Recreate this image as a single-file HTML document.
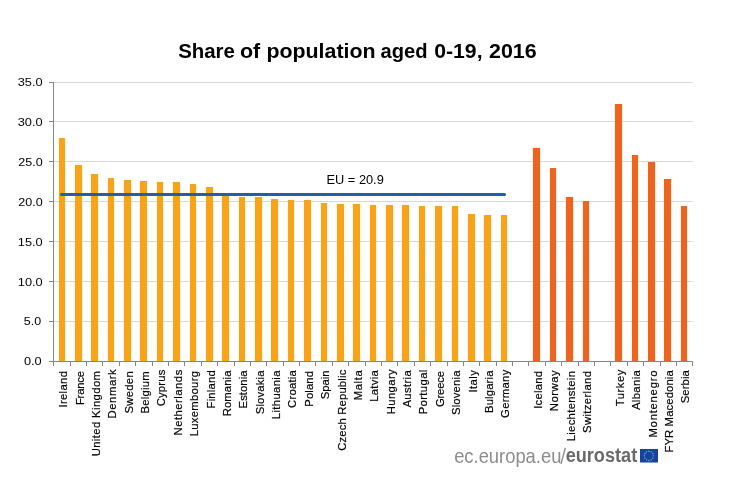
<!DOCTYPE html>
<html><head><meta charset="utf-8"><title>Share of population aged 0-19, 2016</title>
<style>html,body{margin:0;padding:0;background:#fff}body{width:742px;height:491px;overflow:hidden}svg{display:block;will-change:transform}text{font-family:"Liberation Sans",sans-serif}#txt{filter:opacity(.999)}.l{stroke:#000;stroke-width:.18px}</style>
</head><body>
<svg width="742" height="491" viewBox="0 0 742 491">
<rect width="742" height="491" fill="#fff"/>
<g shape-rendering="crispEdges">
<rect x="58" y="138" width="8" height="223" fill="#fffadf"/>
<rect x="74" y="165" width="9" height="196" fill="#fffadf"/>
<rect x="90" y="174" width="9" height="187" fill="#fffadf"/>
<rect x="107" y="178" width="8" height="183" fill="#fffadf"/>
<rect x="123" y="180" width="9" height="181" fill="#fffadf"/>
<rect x="139" y="181" width="9" height="180" fill="#fffadf"/>
<rect x="156" y="182" width="8" height="179" fill="#fffadf"/>
<rect x="172" y="182" width="9" height="179" fill="#fffadf"/>
<rect x="189" y="184" width="8" height="177" fill="#fffadf"/>
<rect x="205" y="187" width="9" height="174" fill="#fffadf"/>
<rect x="221" y="195" width="9" height="166" fill="#fffadf"/>
<rect x="238" y="197" width="8" height="164" fill="#fffadf"/>
<rect x="254" y="197" width="9" height="164" fill="#fffadf"/>
<rect x="270" y="199" width="9" height="162" fill="#fffadf"/>
<rect x="287" y="200" width="8" height="161" fill="#fffadf"/>
<rect x="303" y="200" width="9" height="161" fill="#fffadf"/>
<rect x="320" y="203" width="8" height="158" fill="#fffadf"/>
<rect x="336" y="204" width="9" height="157" fill="#fffadf"/>
<rect x="352" y="204" width="9" height="157" fill="#fffadf"/>
<rect x="369" y="205" width="8" height="156" fill="#fffadf"/>
<rect x="385" y="205" width="9" height="156" fill="#fffadf"/>
<rect x="401" y="205" width="9" height="156" fill="#fffadf"/>
<rect x="418" y="206" width="8" height="155" fill="#fffadf"/>
<rect x="434" y="206" width="9" height="155" fill="#fffadf"/>
<rect x="451" y="206" width="8" height="155" fill="#fffadf"/>
<rect x="467" y="214" width="9" height="147" fill="#fffadf"/>
<rect x="483" y="215" width="9" height="146" fill="#fffadf"/>
<rect x="500" y="215" width="8" height="146" fill="#fffadf"/>
<rect x="532" y="148" width="9" height="213" fill="#fff1e6"/>
<rect x="549" y="168" width="8" height="193" fill="#fff1e6"/>
<rect x="565" y="197" width="9" height="164" fill="#fff1e6"/>
<rect x="582" y="201" width="8" height="160" fill="#fff1e6"/>
<rect x="614" y="104" width="9" height="257" fill="#fff1e6"/>
<rect x="631" y="155" width="8" height="206" fill="#fff1e6"/>
<rect x="647" y="162" width="9" height="199" fill="#fff1e6"/>
<rect x="663" y="179" width="9" height="182" fill="#fff1e6"/>
<rect x="680" y="206" width="8" height="155" fill="#fff1e6"/>
</g>
<g shape-rendering="crispEdges">
<rect x="54" y="82" width="639" height="1" fill="#d9d9d9"/>
<rect x="54" y="121" width="639" height="1" fill="#d9d9d9"/>
<rect x="54" y="161" width="639" height="1" fill="#d9d9d9"/>
<rect x="54" y="201" width="639" height="1" fill="#d9d9d9"/>
<rect x="54" y="241" width="639" height="1" fill="#d9d9d9"/>
<rect x="54" y="281" width="639" height="1" fill="#d9d9d9"/>
<rect x="54" y="321" width="639" height="1" fill="#d9d9d9"/>
</g>
<g>
<rect x="59" y="138" width="6" height="223" fill="#f9a31a"/>
<rect x="75" y="165" width="7" height="196" fill="#f9a31a"/>
<rect x="91" y="174" width="7" height="187" fill="#f9a31a"/>
<rect x="108" y="178" width="6" height="183" fill="#f9a31a"/>
<rect x="124" y="180" width="7" height="181" fill="#f9a31a"/>
<rect x="140" y="181" width="7" height="180" fill="#f9a31a"/>
<rect x="157" y="182" width="6" height="179" fill="#f9a31a"/>
<rect x="173" y="182" width="7" height="179" fill="#f9a31a"/>
<rect x="190" y="184" width="6" height="177" fill="#f9a31a"/>
<rect x="206" y="187" width="7" height="174" fill="#f9a31a"/>
<rect x="222" y="195" width="7" height="166" fill="#f9a31a"/>
<rect x="239" y="197" width="6" height="164" fill="#f9a31a"/>
<rect x="255" y="197" width="7" height="164" fill="#f9a31a"/>
<rect x="271" y="199" width="7" height="162" fill="#f9a31a"/>
<rect x="288" y="200" width="6" height="161" fill="#f9a31a"/>
<rect x="304" y="200" width="7" height="161" fill="#f9a31a"/>
<rect x="321" y="203" width="6" height="158" fill="#f9a31a"/>
<rect x="337" y="204" width="7" height="157" fill="#f9a31a"/>
<rect x="353" y="204" width="7" height="157" fill="#f9a31a"/>
<rect x="370" y="205" width="6" height="156" fill="#f9a31a"/>
<rect x="386" y="205" width="7" height="156" fill="#f9a31a"/>
<rect x="402" y="205" width="7" height="156" fill="#f9a31a"/>
<rect x="419" y="206" width="6" height="155" fill="#f9a31a"/>
<rect x="435" y="206" width="7" height="155" fill="#f9a31a"/>
<rect x="452" y="206" width="6" height="155" fill="#f9a31a"/>
<rect x="468" y="214" width="7" height="147" fill="#f9a31a"/>
<rect x="484" y="215" width="7" height="146" fill="#f9a31a"/>
<rect x="501" y="215" width="6" height="146" fill="#f9a31a"/>
<rect x="533" y="148" width="7" height="213" fill="#ee641f"/>
<rect x="550" y="168" width="6" height="193" fill="#ee641f"/>
<rect x="566" y="197" width="7" height="164" fill="#ee641f"/>
<rect x="583" y="201" width="6" height="160" fill="#ee641f"/>
<rect x="615" y="104" width="7" height="257" fill="#ee641f"/>
<rect x="632" y="155" width="6" height="206" fill="#ee641f"/>
<rect x="648" y="162" width="7" height="199" fill="#ee641f"/>
<rect x="664" y="179" width="7" height="182" fill="#ee641f"/>
<rect x="681" y="206" width="6" height="155" fill="#ee641f"/>
</g>
<g shape-rendering="crispEdges" fill="#868686">
<rect x="53" y="82" width="1" height="284"/>
<rect x="49" y="361" width="644" height="1"/>
<rect x="49" y="82" width="5" height="1"/>
<rect x="49" y="121" width="5" height="1"/>
<rect x="49" y="161" width="5" height="1"/>
<rect x="49" y="201" width="5" height="1"/>
<rect x="49" y="241" width="5" height="1"/>
<rect x="49" y="281" width="5" height="1"/>
<rect x="49" y="321" width="5" height="1"/>
<rect x="70" y="361" width="1" height="5"/>
<rect x="86" y="361" width="1" height="5"/>
<rect x="102" y="361" width="1" height="5"/>
<rect x="119" y="361" width="1" height="5"/>
<rect x="135" y="361" width="1" height="5"/>
<rect x="152" y="361" width="1" height="5"/>
<rect x="168" y="361" width="1" height="5"/>
<rect x="184" y="361" width="1" height="5"/>
<rect x="201" y="361" width="1" height="5"/>
<rect x="217" y="361" width="1" height="5"/>
<rect x="234" y="361" width="1" height="5"/>
<rect x="250" y="361" width="1" height="5"/>
<rect x="266" y="361" width="1" height="5"/>
<rect x="283" y="361" width="1" height="5"/>
<rect x="299" y="361" width="1" height="5"/>
<rect x="315" y="361" width="1" height="5"/>
<rect x="332" y="361" width="1" height="5"/>
<rect x="348" y="361" width="1" height="5"/>
<rect x="365" y="361" width="1" height="5"/>
<rect x="381" y="361" width="1" height="5"/>
<rect x="397" y="361" width="1" height="5"/>
<rect x="414" y="361" width="1" height="5"/>
<rect x="430" y="361" width="1" height="5"/>
<rect x="447" y="361" width="1" height="5"/>
<rect x="463" y="361" width="1" height="5"/>
<rect x="479" y="361" width="1" height="5"/>
<rect x="496" y="361" width="1" height="5"/>
<rect x="512" y="361" width="1" height="5"/>
<rect x="528" y="361" width="1" height="5"/>
<rect x="545" y="361" width="1" height="5"/>
<rect x="561" y="361" width="1" height="5"/>
<rect x="578" y="361" width="1" height="5"/>
<rect x="594" y="361" width="1" height="5"/>
<rect x="610" y="361" width="1" height="5"/>
<rect x="627" y="361" width="1" height="5"/>
<rect x="643" y="361" width="1" height="5"/>
<rect x="660" y="361" width="1" height="5"/>
<rect x="676" y="361" width="1" height="5"/>
<rect x="692" y="361" width="1" height="5"/>
</g>
<line x1="61.5" y1="194.5" x2="504.5" y2="194.5" stroke="#225ea9" stroke-width="3" stroke-linecap="round"/>
<line x1="561.0" y1="464.0" x2="565.3" y2="447.8" stroke="#8c8c8c" stroke-width="1.35"/>
<rect x="640" y="449" width="18" height="13.5" fill="#1443a2"/>
<circle cx="648.90" cy="451.25" r="0.7" fill="#8fc09c"/>
<circle cx="651.20" cy="451.87" r="0.7" fill="#8fc09c"/>
<circle cx="652.88" cy="453.55" r="0.7" fill="#8fc09c"/>
<circle cx="653.50" cy="455.85" r="0.7" fill="#8fc09c"/>
<circle cx="652.88" cy="458.15" r="0.7" fill="#8fc09c"/>
<circle cx="651.20" cy="459.83" r="0.7" fill="#8fc09c"/>
<circle cx="648.90" cy="460.45" r="0.7" fill="#8fc09c"/>
<circle cx="646.60" cy="459.83" r="0.7" fill="#8fc09c"/>
<circle cx="644.92" cy="458.15" r="0.7" fill="#8fc09c"/>
<circle cx="644.30" cy="455.85" r="0.7" fill="#8fc09c"/>
<circle cx="644.92" cy="453.55" r="0.7" fill="#8fc09c"/>
<circle cx="646.60" cy="451.87" r="0.7" fill="#8fc09c"/>
<g id="txt">
<text x="178.18" y="58.3" font-size="19.3" font-weight="bold" fill="#000" textLength="56.72" lengthAdjust="spacingAndGlyphs">Share</text>
<text x="239.93" y="58.3" font-size="19.3" font-weight="bold" fill="#000" textLength="20.30" lengthAdjust="spacingAndGlyphs">of</text>
<text x="266.40" y="58.3" font-size="19.3" font-weight="bold" fill="#000" textLength="109.16" lengthAdjust="spacingAndGlyphs">population</text>
<text x="380.58" y="58.3" font-size="19.3" font-weight="bold" fill="#000" textLength="47.01" lengthAdjust="spacingAndGlyphs">aged</text>
<text x="434.22" y="58.3" font-size="19.3" font-weight="bold" fill="#000" textLength="48.31" lengthAdjust="spacingAndGlyphs">0-19,</text>
<text x="489.03" y="58.3" font-size="19.3" font-weight="bold" fill="#000" textLength="47.60" lengthAdjust="spacingAndGlyphs">2016</text>
<text x="326.54" y="184.1" font-size="12.5" fill="#000" textLength="57.26" lengthAdjust="spacingAndGlyphs">EU = 20.9</text>
<text x="17.67" y="85.9" font-size="11" fill="#000" textLength="24.94" lengthAdjust="spacingAndGlyphs">35.0</text>
<text x="17.67" y="125.9" font-size="11" fill="#000" textLength="24.94" lengthAdjust="spacingAndGlyphs">30.0</text>
<text x="18.17" y="165.9" font-size="11" fill="#000" textLength="24.48" lengthAdjust="spacingAndGlyphs">25.0</text>
<text x="18.17" y="206.0" font-size="11" fill="#000" textLength="24.48" lengthAdjust="spacingAndGlyphs">20.0</text>
<text x="17.79" y="245.9" font-size="11" fill="#000" textLength="24.87" lengthAdjust="spacingAndGlyphs">15.0</text>
<text x="17.79" y="286.0" font-size="11" fill="#000" textLength="24.87" lengthAdjust="spacingAndGlyphs">10.0</text>
<text x="23.81" y="325.1" font-size="11" fill="#000" textLength="17.33" lengthAdjust="spacingAndGlyphs">5.0</text>
<text x="23.90" y="364.8" font-size="11" fill="#000" textLength="17.71" lengthAdjust="spacingAndGlyphs">0.0</text>
<text x="454.14" y="462.5" font-size="20.3" fill="#8c8c8c" textLength="107.22" lengthAdjust="spacingAndGlyphs">ec.europa.eu</text>
<text x="565.64" y="462.4" font-size="19.6" font-weight="bold" fill="#6a6a6a" textLength="71.57" lengthAdjust="spacingAndGlyphs">eurostat</text>
<text transform="translate(67.4,407.55) rotate(-90)" class="l" font-size="11.3" fill="#000" textLength="36.55" lengthAdjust="spacing">Ireland</text>
<text transform="translate(83.9,405.05) rotate(-90)" class="l" font-size="11.3" fill="#000" textLength="34.05" lengthAdjust="spacing">France</text>
<text transform="translate(99.9,456.35) rotate(-90)" class="l" font-size="11.3" fill="#000" textLength="85.35" lengthAdjust="spacing">United Kingdom</text>
<text transform="translate(116.4,418.45) rotate(-90)" class="l" font-size="11.3" fill="#000" textLength="49.15" lengthAdjust="spacing">Denmark</text>
<text transform="translate(132.9,413.45) rotate(-90)" class="l" font-size="11.3" fill="#000" textLength="42.15" lengthAdjust="spacing">Sweden</text>
<text transform="translate(148.9,413.45) rotate(-90)" class="l" font-size="11.3" fill="#000" textLength="42.15" lengthAdjust="spacing">Belgium</text>
<text transform="translate(165.4,406.25) rotate(-90)" class="l" font-size="11.3" fill="#000" textLength="36.55" lengthAdjust="spacing">Cyprus</text>
<text transform="translate(181.9,435.45) rotate(-90)" class="l" font-size="11.3" fill="#000" textLength="65.75" lengthAdjust="spacing">Netherlands</text>
<text transform="translate(198.4,436.35) rotate(-90)" class="l" font-size="11.3" fill="#000" textLength="65.35" lengthAdjust="spacing">Luxembourg</text>
<text transform="translate(214.9,408.45) rotate(-90)" class="l" font-size="11.3" fill="#000" textLength="38.25" lengthAdjust="spacing">Finland</text>
<text transform="translate(230.9,416.25) rotate(-90)" class="l" font-size="11.3" fill="#000" textLength="45.75" lengthAdjust="spacing">Romania</text>
<text transform="translate(247.4,408.45) rotate(-90)" class="l" font-size="11.3" fill="#000" textLength="37.95" lengthAdjust="spacing">Estonia</text>
<text transform="translate(263.9,414.25) rotate(-90)" class="l" font-size="11.3" fill="#000" textLength="43.75" lengthAdjust="spacing">Slovakia</text>
<text transform="translate(279.9,419.25) rotate(-90)" class="l" font-size="11.3" fill="#000" textLength="48.75" lengthAdjust="spacing">Lithuania</text>
<text transform="translate(296.4,407.95) rotate(-90)" class="l" font-size="11.3" fill="#000" textLength="37.75" lengthAdjust="spacing">Croatia</text>
<text transform="translate(312.9,406.75) rotate(-90)" class="l" font-size="11.3" fill="#000" textLength="35.75" lengthAdjust="spacing">Poland</text>
<text transform="translate(329.4,399.25) rotate(-90)" class="l" font-size="11.3" fill="#000" textLength="28.75" lengthAdjust="spacing">Spain</text>
<text transform="translate(345.9,450.85) rotate(-90)" class="l" font-size="11.3" fill="#000" textLength="81.15" lengthAdjust="spacing">Czech Republic</text>
<text transform="translate(361.9,400.35) rotate(-90)" class="l" font-size="11.3" fill="#000" textLength="30.15" lengthAdjust="spacing">Malta</text>
<text transform="translate(378.4,401.75) rotate(-90)" class="l" font-size="11.3" fill="#000" textLength="31.55" lengthAdjust="spacing">Latvia</text>
<text transform="translate(394.9,414.25) rotate(-90)" class="l" font-size="11.3" fill="#000" textLength="44.95" lengthAdjust="spacing">Hungary</text>
<text transform="translate(410.9,407.55) rotate(-90)" class="l" font-size="11.3" fill="#000" textLength="37.35" lengthAdjust="spacing">Austria</text>
<text transform="translate(427.4,414.25) rotate(-90)" class="l" font-size="11.3" fill="#000" textLength="44.55" lengthAdjust="spacing">Portugal</text>
<text transform="translate(443.9,407.05) rotate(-90)" class="l" font-size="11.3" fill="#000" textLength="36.05" lengthAdjust="spacing">Greece</text>
<text transform="translate(460.4,415.05) rotate(-90)" class="l" font-size="11.3" fill="#000" textLength="44.55" lengthAdjust="spacing">Slovenia</text>
<text transform="translate(476.9,392.55) rotate(-90)" class="l" font-size="11.3" fill="#000" textLength="22.35" lengthAdjust="spacing">Italy</text>
<text transform="translate(492.9,413.05) rotate(-90)" class="l" font-size="11.3" fill="#000" textLength="42.55" lengthAdjust="spacing">Bulgaria</text>
<text transform="translate(509.4,417.95) rotate(-90)" class="l" font-size="11.3" fill="#000" textLength="48.25" lengthAdjust="spacing">Germany</text>
<text transform="translate(541.9,408.75) rotate(-90)" class="l" font-size="11.3" fill="#000" textLength="37.75" lengthAdjust="spacing">Iceland</text>
<text transform="translate(558.4,411.25) rotate(-90)" class="l" font-size="11.3" fill="#000" textLength="40.85" lengthAdjust="spacing">Norway</text>
<text transform="translate(574.9,441.35) rotate(-90)" class="l" font-size="11.3" fill="#000" textLength="70.35" lengthAdjust="spacing">Liechtenstein</text>
<text transform="translate(591.4,432.95) rotate(-90)" class="l" font-size="11.3" fill="#000" textLength="61.95" lengthAdjust="spacing">Switzerland</text>
<text transform="translate(623.9,406.25) rotate(-90)" class="l" font-size="11.3" fill="#000" textLength="36.75" lengthAdjust="spacing">Turkey</text>
<text transform="translate(640.4,410.05) rotate(-90)" class="l" font-size="11.3" fill="#000" textLength="39.85" lengthAdjust="spacing">Albania</text>
<text transform="translate(656.9,437.55) rotate(-90)" class="l" font-size="11.3" fill="#000" textLength="67.05" lengthAdjust="spacing">Montenegro</text>
<text transform="translate(672.9,452.55) rotate(-90)" class="l" font-size="11.3" fill="#000" textLength="82.35" lengthAdjust="spacing">FYR Macedonia</text>
<text transform="translate(689.4,403.35) rotate(-90)" class="l" font-size="11.3" fill="#000" textLength="33.15" lengthAdjust="spacing">Serbia</text>
</g>
</svg></body></html>
